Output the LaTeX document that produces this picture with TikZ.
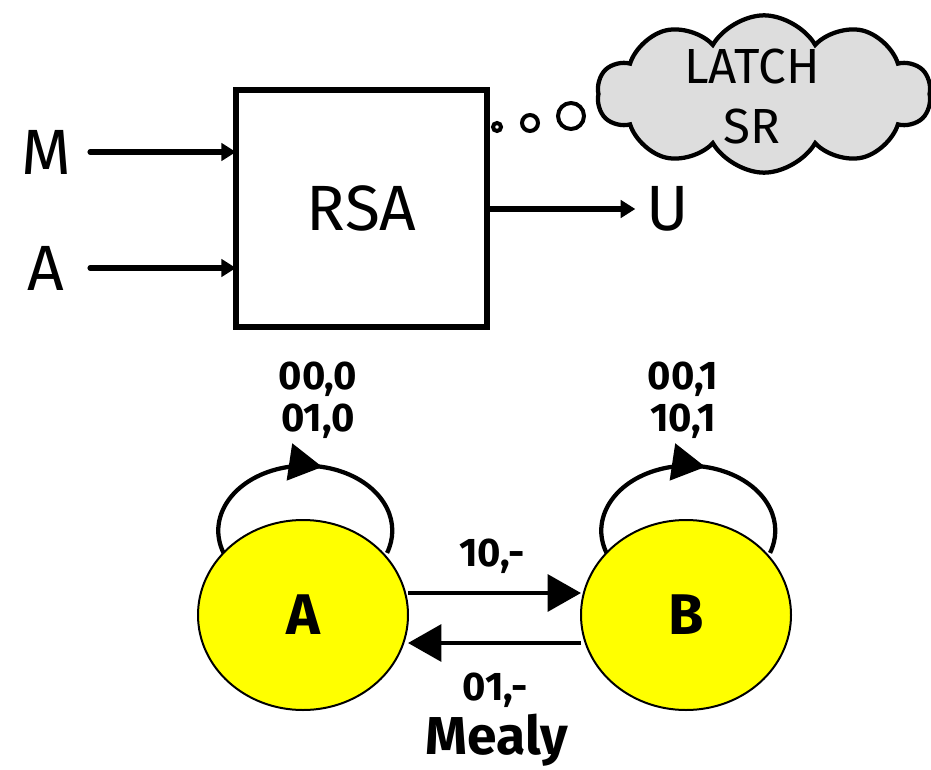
\documentclass[tikz,border=0pt]{standalone}
\usepackage{fontspec}
\setmainfont{Fira Sans}
\usetikzlibrary{arrows.meta,positioning,shapes.geometric,shapes.symbols,decorations.markings}
\definecolor{stateyellow}{HTML}{FFFF00}
\definecolor{cloudgray}{HTML}{DDDDDD}
\newcommand{\bigsig}{\fontsize{48}{54}\selectfont}
\newcommand{\edgesig}{\fontsize{30}{31.5}\selectfont\bfseries}
\tikzset{
box/.style={draw,line width=4.2pt,inner sep=0pt,outer sep=0pt,font=\bigsig},
sig/.style={inner sep=0pt,font=\bigsig},
wire/.style={-{Triangle[length=11pt,width=13pt]},line width=3.8pt,line cap=round},
state/.style={ellipse,draw,fill=stateyellow,line width=1.5pt,inner sep=0pt,outer sep=0pt,
  minimum width=157.5pt,minimum height=142.5pt,font=\fontsize{43}{48}\selectfont\bfseries},
flow/.style={-{Triangle[length=25pt,width=27.5pt]},line width=3.2pt},
loopflow/.style={line width=3.2pt,postaction={decorate,decoration={markings,
  mark=at position .56 with {\arrow{Triangle[length=25pt,width=27.5pt]}}}}},
edge label/.style={inner sep=0pt,align=center,font=\edgesig},
bubble/.style={circle,draw,line width=3pt,inner sep=0pt,outer sep=0pt},
thought/.style={cloud,cloud puffs=10,cloud puff arc=120,aspect=2.1,draw,fill=cloudgray,
  line width=3.2pt,inner sep=0pt,minimum width=250pt,minimum height=118pt}}
\begin{document}
\begin{tikzpicture}[x=0.75pt,y=-0.75pt]
\useasboundingbox (0,0) rectangle (931,770);
\node[box,minimum width=188.25pt,minimum height=177.75pt] (rsa) at (361.5,208.5) {RSA};
\node[sig,anchor=east] (inM) at (72,152) {M};
\node[sig,anchor=east] (inA) at (64,268) {A};
\node[sig,anchor=west] (outU) at (646,209) {U};
\draw[wire] ([xshift=13.5pt]inM.east) -- (rsa.west |- inM);
\draw[wire] ([xshift=19.5pt]inA.east) -- (rsa.west |- inA);
\draw[wire] (rsa.east |- outU) -- ([xshift=-8pt]outU.west);
\node[bubble,minimum size=6pt] (dot1) at (497,127) {};
\node[bubble,minimum size=12pt] (dot2) at (530,123) {};
\node[bubble,minimum size=19.5pt] (dot3) at (571,116) {};
\node[thought] (latch) at (764,94) {};
\node[sig,align=center,font=\fontsize{37}{45}\selectfont] (latchtxt) at (752,97) {LATCH\\SR};
\node[state] (A) at (303,615) {A};
\node[state] (B) at (686,615) {B};
\draw[loopflow] (A.142) arc[start angle=200,end angle=-20,x radius=65.25pt,y radius=48.75pt];
\draw[loopflow] (B.142) arc[start angle=200,end angle=-20,x radius=65.25pt,y radius=48.75pt];
\node[edge label] (loopA) at (318,400) {00,0\\01,0};
\node[edge label] (loopB) at (683,400) {00,1\\10,1};
\draw[flow] ([yshift=16.5pt]A.east) -- ([yshift=16.5pt]B.west);
\draw[flow] ([yshift=-21pt]B.west) -- ([yshift=-21pt]A.east);
\node[edge label] (ab) at (492,556) {10,-};
\node[edge label] (ba) at (495,690) {01,-};
\node[edge label,font=\fontsize{40}{44}\selectfont\bfseries] (mealy) at (497,740) {Mealy};
\end{tikzpicture}
\end{document}
